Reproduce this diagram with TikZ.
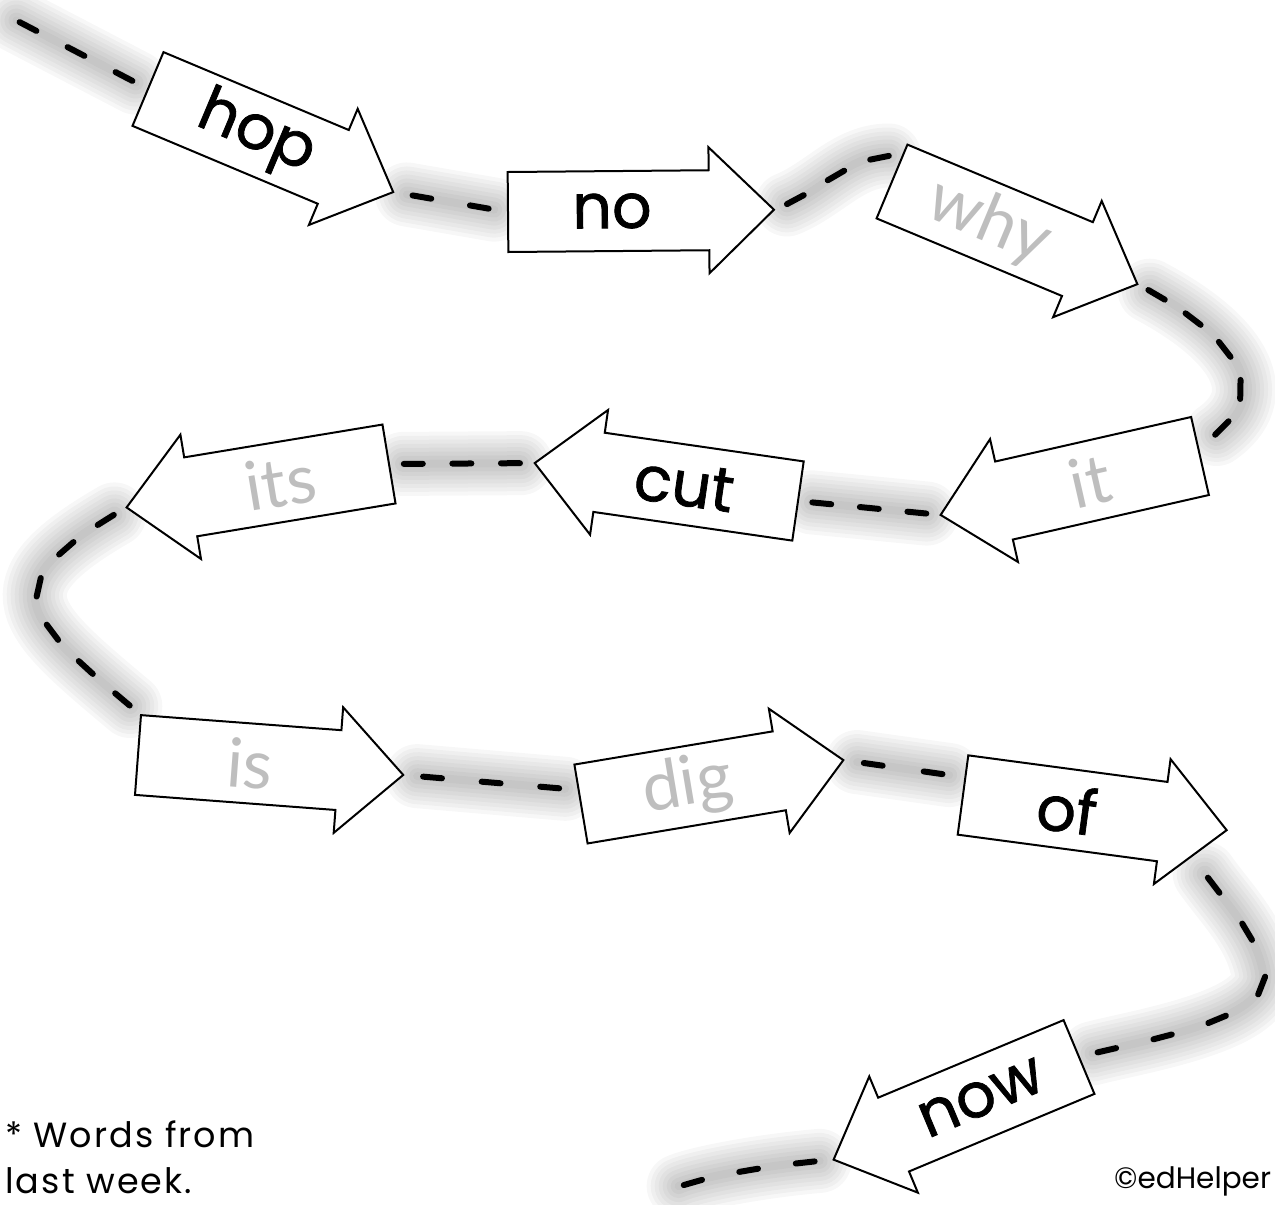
\documentclass[tikz,border=0pt]{standalone}
\usepackage{fontspec}
\setmainfont{Poppins}
\newfontfamily\wordfont{Poppins}[FakeBold=1.2]
\newfontfamily\notefont{Poppins}[LetterSpace=6]
\newfontfamily\greyfont{Lato}
\usetikzlibrary{calc,decorations.markings}
\pgfdeclarelayer{bg}
\pgfsetlayers{bg,main}
\definecolor{wordgrey}{RGB}{190,190,190}
\tikzset{
  arrowbox/.style={draw=black, fill=white, line width=2pt, line join=miter},
  blackword/.style={inner sep=0pt, text=black, font=\wordfont\fontsize{62}{70}\selectfont},
  greyword/.style={inner sep=0pt, text=wordgrey, font=\greyfont\fontsize{68}{76}\selectfont},
  dashseg/.style={draw=black, line width=6pt, line cap=round},
  shadowband/.style={draw=black, opacity=0.03, line cap=round, shorten <=14pt, shorten >=14pt},
  note/.style={inner sep=0pt, anchor=base west, font=\notefont\fontsize{35}{40}\selectfont}
}
% #1 name, #2 tail x, #3 tail y (from top), #4 arrow angle, #5 text angle, #6 text distance, #7 style, #8 word
\newcommand\wordarrow[8]{%
  \begin{scope}[shift={(#2,-#3)},rotate=#4]
    \draw[arrowbox] (0,40) -- (201,40) -- (201,63) -- (266,0) -- (201,-63) -- (201,-40) -- (0,-40) -- cycle;
    \coordinate (#1-tail) at (0,0);
    \coordinate (#1-tip) at (266,0);
    \node[#7,rotate=#5] (#1) at (#6,0) {#8};
  \end{scope}}
% #1 number of dashes, #2 path
\newcommand\linkpath[2]{%
  \pgfmathsetmacro\lkstep{1/#1}%
  \pgfmathsetmacro\lkfirst{0.5/#1}%
  \begin{pgfonlayer}{bg}
    \foreach \w in {64,56,48,40,32,24,16,8}{
      \draw[shadowband, line width=\w pt] #2;}
    \path[postaction={decorate}, decoration={markings,
       mark=between positions \lkfirst\space and 0.999 step \lkstep\space with {\draw[dashseg] (-9.5pt,0) -- (9.5pt,0);}}] #2;
  \end{pgfonlayer}}
\begin{document}
\begin{tikzpicture}[x=1pt,y=1pt]
\useasboundingbox (0,0) rectangle (1275,-1205);

\wordarrow{hop}{148}{89}{-22.8}{-22.8}{117}{blackword}{hop}
\wordarrow{no}{508}{212}{0.5}{0.5}{104}{blackword}{no}
\wordarrow{why}{892}{181.5}{-22.7}{-22.7}{105}{greyword}{why}
\wordarrow{it}{1200}{456}{192.8}{12.8}{113}{greyword}{it}
\wordarrow{cut}{798}{501}{171.8}{-8.2}{115}{blackword}{cut}
\wordarrow{its}{389}{464}{189.4}{9.4}{110}{greyword}{its}
\wordarrow{is}{138}{755}{-4.3}{-4.3}{112}{greyword}{is}
\wordarrow{dig}{581}{804}{9.5}{9.5}{108}{greyword}{dig}
\wordarrow{of}{963}{795}{-7.6}{-7.6}{105}{blackword}{of}
\wordarrow{now}{1079}{1057}{202.7}{22.7}{106}{blackword}{now}

\coordinate (start) at (4,-14);
\coordinate (finish) at (666,-1192);

\linkpath{3}{(start) -- (hop-tail)}
\linkpath{2}{(hop-tip) -- (no-tail)}
\linkpath{3}{(no-tip) to[out=22,in=180] ($(why-tail)+(11,26)$)}
\linkpath{5}{(why-tip) .. controls +(-28:120) and +(35:80) .. ($(it-tail)+(5,14)$)}
\linkpath{3}{(it-tip) -- (cut-tail)}
\linkpath{3}{(cut-tip) -- (its-tail)}
\linkpath{6}{(its-tip) .. controls +(210:160) and +(140:150) .. ($(is-tail)+(3,40)$)}
\linkpath{3}{(is-tip) -- ($(dig-tail)+(-2,14)$)}
\linkpath{2}{(dig-tip) -- ($(of-tail)+(0,18)$)}
\linkpath{6}{($(of-tip)+(-30,-32)$) .. controls +(-55:50) and +(100:40) .. (1263,-972) .. controls +(-80:50) and +(15:60) .. (now-tail)}
\linkpath{3}{(now-tip) .. controls +(185:80) and +(25:30) .. (finish)}

\node[note] (n1) at (5,-1147) {* Words from};
\node[note] (n2) at (5,-1193) {last week.};
\node[inner sep=0pt, anchor=base west, font=\fontsize{29.5}{33}\selectfont] (copy) at (1114,-1188) {©edHelper};
\end{tikzpicture}
\end{document}
